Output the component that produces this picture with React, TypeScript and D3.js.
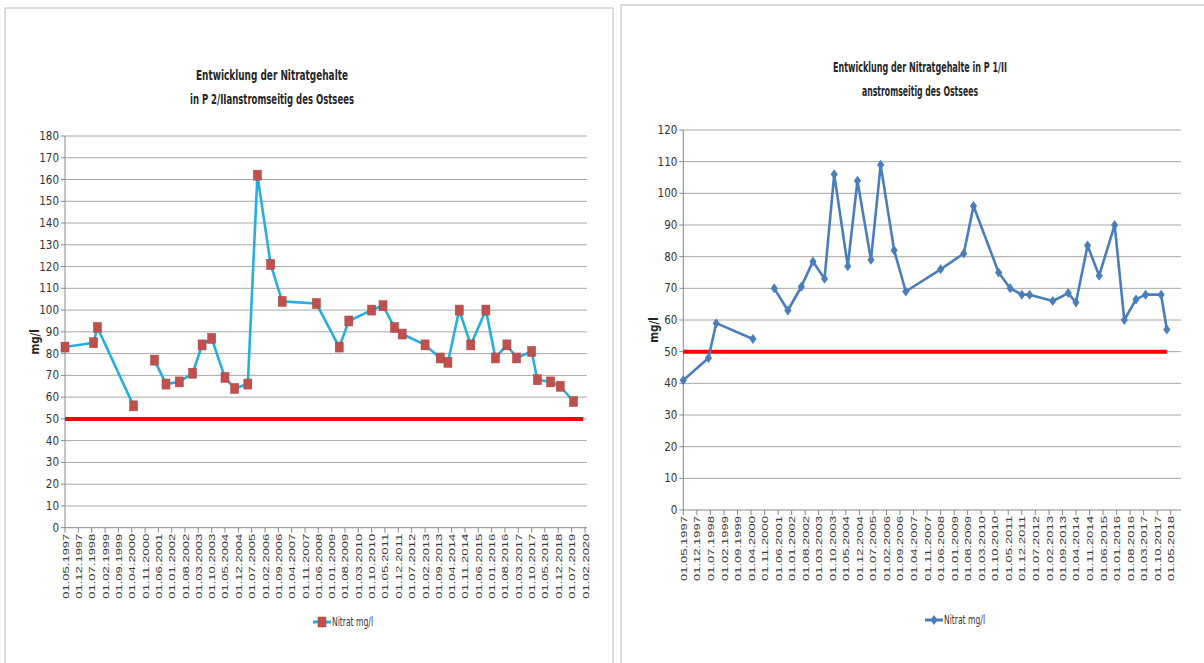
import React from "react";
import * as d3 from "d3";

// Nitrat-Messwerte P 2/II (mg/l), null = Messlücke
const p2Dates = [
  "1997-05", "1998-08", "1998-10", "2000-05", "2000-11", "2001-04", "2001-10", "2002-05",
  "2002-12", "2003-05", "2003-10", "2004-05", "2004-10", "2005-05", "2005-10", "2006-05",
  "2006-11", "2008-05", "2009-05", "2009-10", "2010-10", "2011-04", "2011-10", "2012-02",
  "2013-02", "2013-10", "2014-02", "2014-08", "2015-02", "2015-10", "2016-03", "2016-09",
  "2017-02", "2017-10", "2018-01", "2018-08", "2019-01", "2019-08",
];
const p2Values = [
  83, 85, 92, 56, null, 77, 66, 67,
  71, 84, 87, 69, 64, 66, 162, 121,
  104, 103, 83, 95, 100, 102, 92, 89,
  84, 78, 76, 100, 84, 100, 78, 84,
  78, 81, 68, 67, 65, 58,
];

// Nitrat-Messwerte P 1/II (mg/l)
const p1Dates = [
  "1997-05", "1998-06", "1998-10", "2000-05", "2000-11", "2001-04", "2001-11", "2002-06",
  "2002-12", "2003-06", "2003-11", "2004-06", "2004-11", "2005-06", "2005-11", "2006-06",
  "2006-12", "2008-06", "2009-06", "2009-11", "2010-12", "2011-06", "2011-12", "2012-04",
  "2013-04", "2013-12", "2014-04", "2014-10", "2015-04", "2015-12", "2016-05", "2016-11",
  "2017-04", "2017-12", "2018-03",
];
const p1Values = [
  41, 48, 59, 54, null, 70, 63, 70.5,
  78.5, 73, 106, 77, 104, 79, 109, 82,
  69, 76, 81, 96, 75, 70, 68, 68,
  66, 68.5, 65.5, 83.5, 74, 90, 60, 66.5,
  68, 68, 57,
];

// Grenzwert 50 mg/l
const limitValue = 50;
const p2LimitRange = ["1997-05", "2020-01"];
const p1LimitRange = ["1997-05", "2018-03"];

// Achsen
const p2AxisRange = ["1997-05", "2020-02"];
const p1AxisRange = ["1997-05", "2018-05"];
const tickStepMonths = 7;
const p2YMax = 180;
const p1YMax = 120;

const p2Title = ["Entwicklung der Nitratgehalte", "in P 2/IIanstromseitig des Ostsees"];
const p1Title = ["Entwicklung der Nitratgehalte in P 1/II", "anstromseitig des Ostsees"];
const legendLabel = "Nitrat mg/l";

const parse = d3.timeParse("%Y-%m");
const fmt = d3.timeFormat("%d.%m.%Y");

const FONT = "'Liberation Sans Narrow', 'DejaVu Sans Condensed', 'Arial Narrow', sans-serif";
const LABEL_FONT = "'Liberation Sans', Arial, sans-serif";

type PanelProps = {
  box: [number, number, number, number];
  title: string[];
  titleWidths: number[];
  titleX: number;
  titleY: number;
  dates: string[];
  values: (number | null)[];
  limitRange: string[];
  axisRange: string[];
  yMax: number;
  xRange: [number, number];
  gridEnd: number;
  yRange: [number, number];
  yTitleX: number;
  lineColor: string;
  marker: "square" | "diamond";
  legendX: number;
  legendY: number;
};

function Marker({ kind, x, y }: { kind: string; x: number; y: number }) {
  if (kind === "square") {
    return <rect x={x - 4} y={y - 5} width={8} height={10} fill="#C0504D" stroke="#A5403D" strokeWidth={0.5} />;
  }
  return <path d={`M${x},${y - 5}L${x + 3.6},${y}L${x},${y + 5}L${x - 3.6},${y}Z`} fill="#4A7EBB" />;
}

function Panel(p: PanelProps) {
  const [start, end] = p.axisRange.map((s) => parse(s)!);
  const x = d3.scaleTime().domain([start, end]).range(p.xRange);
  const y = d3.scaleLinear().domain([0, p.yMax]).range(p.yRange);
  const ticks: Date[] = [];
  for (let d = start; d <= end; d = d3.timeMonth.offset(d, tickStepMonths)) ticks.push(d);
  const yTicks = d3.range(0, p.yMax + 1, 10);
  const pts = p.dates.map((d, i) => ({ date: parse(d)!, v: p.values[i] }));
  const line = d3
    .line<{ date: Date; v: number | null }>()
    .defined((d) => d.v !== null)
    .x((d) => x(d.date))
    .y((d) => y(d.v as number));
  const limit = p.limitRange.map((d) => ({ date: parse(d)!, v: limitValue }));
  const x0 = p.xRange[0];
  const y0 = p.yRange[0];
  const [bx, by, bw, bh] = p.box;

  return (
    <g>
      <rect x={bx} y={by} width={bw} height={bh} fill="#fff" stroke="#C6C6C6" strokeWidth={1.2} />
      {p.title.map((t, i) => (
        <text key={i} x={p.titleX} y={p.titleY + i * 24} textAnchor="middle" fontFamily={FONT}
          fontWeight="bold" fontSize={13.5} fill="#262626" textLength={p.titleWidths[i]}
          lengthAdjust="spacingAndGlyphs">{t}</text>
      ))}
      {yTicks.map((t) => (
        <g key={t}>
          {t > 0 && <line x1={x0} x2={p.gridEnd} y1={y(t)} y2={y(t)} stroke="#A8A8A8" strokeWidth={1} />}
          <line x1={x0 - 4} x2={x0} y1={y(t)} y2={y(t)} stroke="#888" />
          <text x={x0 - 6} y={y(t) + 4} textAnchor="end" fontFamily={FONT} fontSize={11.5} fill="#333">{t}</text>
        </g>
      ))}
      <line x1={x0} x2={x0} y1={p.yRange[1]} y2={y0} stroke="#888" />
      <line x1={x0} x2={p.gridEnd} y1={y0} y2={y0} stroke="#888" />
      {ticks.map((t, i) => (
        <g key={i}>
          <line x1={x(t)} x2={x(t)} y1={y0} y2={y0 + 5} stroke="#888" />
          <text transform={`translate(${x(t) + 3.5},${y0 + 6}) rotate(-90)`} textAnchor="end"
            fontFamily={LABEL_FONT} fontSize={9.5} fill="#3a3a3a" textLength={65}
            lengthAdjust="spacingAndGlyphs">{fmt(t)}</text>
        </g>
      ))}
      <text transform={`translate(${p.yTitleX},${(p.yRange[0] + p.yRange[1]) / 2 + 10}) rotate(-90)`}
        textAnchor="middle" fontFamily={FONT} fontWeight="bold" fontSize={11.5} fill="#262626">mg/l</text>
      <path d={line(limit) ?? ""} fill="none" stroke="#FF0000" strokeWidth={4} />
      <path d={line(pts) ?? ""} fill="none" stroke={p.lineColor} strokeWidth={2.6} strokeLinejoin="round" />
      {pts.filter((d) => d.v !== null).map((d, i) => (
        <Marker key={i} kind={p.marker} x={x(d.date)} y={y(d.v as number)} />
      ))}
      <line x1={p.legendX} x2={p.legendX + 18} y1={p.legendY} y2={p.legendY} stroke={p.lineColor} strokeWidth={3} />
      <Marker kind={p.marker} x={p.legendX + 9} y={p.legendY} />
      <text x={p.legendX + 19} y={p.legendY + 4} fontFamily={FONT} fontSize={11.5} fill="#333"
        textLength={41} lengthAdjust="spacingAndGlyphs">{legendLabel}</text>
    </g>
  );
}

export default function App() {
  return (
    <svg width={1204} height={663} style={{ position: "absolute", left: 0, top: 0, background: "#fff" }}>
      <rect width={1204} height={663} fill="#fff" />
      <Panel box={[5, 8, 608, 660]} title={p2Title} titleWidths={[152, 164]} titleX={272} titleY={80}
        dates={p2Dates} values={p2Values} limitRange={p2LimitRange} axisRange={p2AxisRange}
        yMax={p2YMax} xRange={[65, 585]} gridEnd={587} yRange={[527.7, 136]} yTitleX={39}
        lineColor="#27AEDD" marker="square" legendX={313} legendY={622} />
      <Panel box={[621, 5, 590, 665]} title={p1Title} titleWidths={[174, 116]} titleX={920} titleY={72}
        dates={p1Dates} values={p1Values} limitRange={p1LimitRange} axisRange={p1AxisRange}
        yMax={p1YMax} xRange={[683.3, 1170.7]} gridEnd={1181} yRange={[510, 130]} yTitleX={658}
        lineColor="#4A7EBB" marker="diamond" legendX={925} legendY={620} />
    </svg>
  );
}
